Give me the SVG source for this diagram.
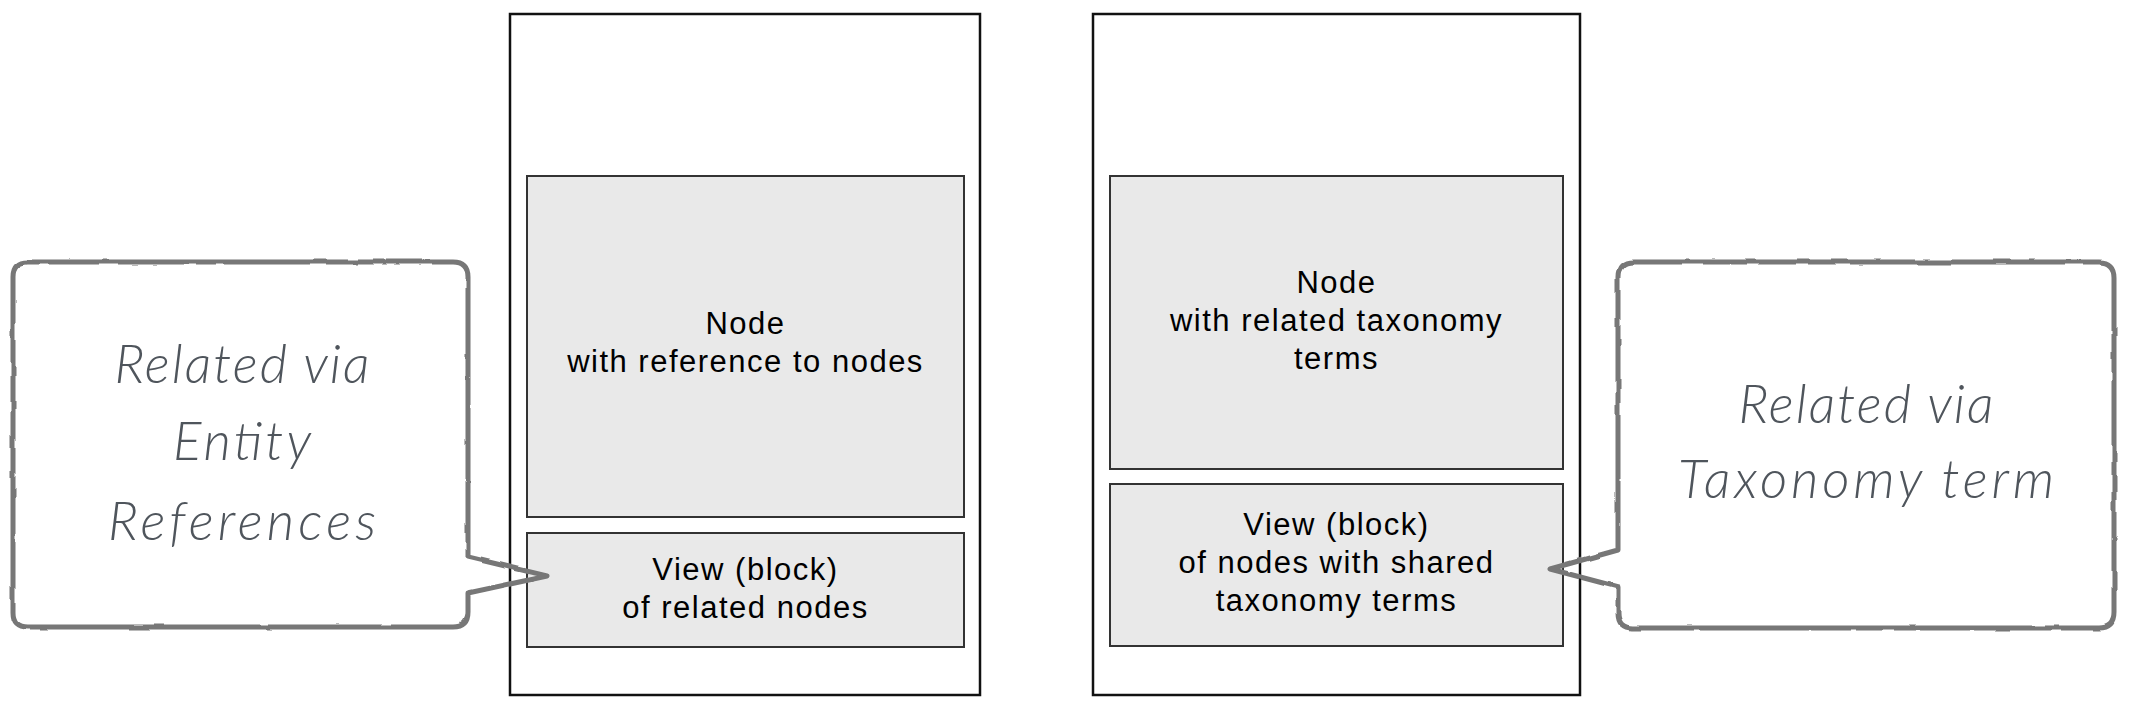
<svg xmlns="http://www.w3.org/2000/svg" width="2132" height="712" viewBox="0 0 2132 712">
  <defs>
    <style>
      .outer { fill: #ffffff; stroke: #111111; stroke-width: 2.5; }
      .inner { fill: #e9e9e9; stroke: #333333; stroke-width: 2; }
      .lbl { font-family: "Liberation Sans", Arial, Helvetica, sans-serif; font-size: 31px; letter-spacing: 1.5px; fill: #000000; text-anchor: middle; }
      .bubble-fill { fill: #ffffff; stroke: none; }
      .bubble { fill: none; stroke: #777777; stroke-width: 5; stroke-linejoin: round; stroke-linecap: round; }
      .hand { font-family: "Lato", "Open Sans", "DejaVu Sans", sans-serif; font-weight: 300; font-style: italic; font-size: 53px; fill: #4f555c; text-anchor: middle; }
    </style>
    <filter id="rough" x="-5%" y="-5%" width="110%" height="110%">
      <feTurbulence type="fractalNoise" baseFrequency="0.04" numOctaves="2" seed="3" result="n"/>
      <feDisplacementMap in="SourceGraphic" in2="n" scale="3" xChannelSelector="R" yChannelSelector="G"/>
    </filter>
  </defs>

  <g id="page-left">
    <rect class="outer" x="510" y="14" width="470" height="681"/>
  </g>
  <g id="node-left">
    <rect class="inner" x="527" y="176" width="437" height="341"/>
    <text class="lbl" x="745.5" y="334">Node</text>
    <text class="lbl" x="745.5" y="372">with reference to nodes</text>
  </g>
  <g id="view-left">
    <rect class="inner" x="527" y="533" width="437" height="114"/>
    <text class="lbl" x="745.5" y="580">View (block)</text>
    <text class="lbl" x="745.5" y="618">of related nodes</text>
  </g>

  <g id="page-right">
    <rect class="outer" x="1093" y="14" width="487" height="681"/>
  </g>
  <g id="node-right">
    <rect class="inner" x="1110" y="176" width="453" height="293"/>
    <text class="lbl" x="1336.5" y="293">Node</text>
    <text class="lbl" x="1336.5" y="331">with related taxonomy</text>
    <text class="lbl" x="1336.5" y="369">terms</text>
  </g>
  <g id="view-right">
    <rect class="inner" x="1110" y="484" width="453" height="162"/>
    <text class="lbl" x="1336.5" y="535">View (block)</text>
    <text class="lbl" x="1336.5" y="573">of nodes with shared</text>
    <text class="lbl" x="1336.5" y="611">taxonomy terms</text>
  </g>

  <g id="callout-left">
    <rect class="bubble-fill" x="13" y="262" width="455" height="365" rx="15"/>
    <path class="bubble" filter="url(#rough)" d="M 28 262 H 453 Q 468 262 468 277 V 557 L 547 576 L 468 593 V 612 Q 468 627 453 627 H 28 Q 13 627 13 612 V 277 Q 13 262 28 262 Z"/>
    <text class="hand" x="242" y="383" textLength="255" lengthAdjust="spacing">Related via</text>
    <text class="hand" x="242" y="460" textLength="138" lengthAdjust="spacing">Entity</text>
    <text class="hand" x="242" y="540" textLength="268" lengthAdjust="spacing">References</text>
  </g>

  <g id="callout-right">
    <rect class="bubble-fill" x="1618" y="262" width="496" height="366" rx="15"/>
    <path class="bubble" filter="url(#rough)" d="M 1633 262 H 2099 Q 2114 262 2114 277 V 613 Q 2114 628 2099 628 H 1633 Q 1618 628 1618 613 V 587 L 1550 569 L 1618 550 V 277 Q 1618 262 1633 262 Z"/>
    <text class="hand" x="1866" y="423" textLength="255" lengthAdjust="spacing">Related via</text>
    <text class="hand" x="1866" y="498" textLength="376" lengthAdjust="spacing">Taxonomy term</text>
  </g>

  <g id="connectors"/>
</svg>
